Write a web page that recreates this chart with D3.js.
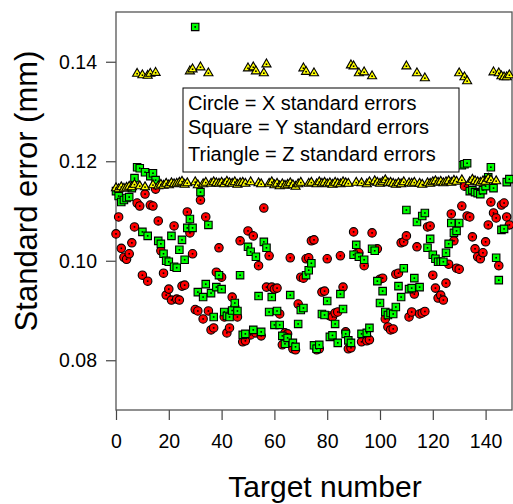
<!DOCTYPE html>
<html>
<head>
<meta charset="utf-8">
<script src="https://cdn.jsdelivr.net/npm/d3@7"></script>
<style>
  body { margin: 0; background: #fff; }
  svg { font-family: Arial, "Liberation Sans", sans-serif; }
</style>
</head>
<body>
<div id="chart"></div>
<script>
/*************** DATA ***************/
// target numbers 0..149, one standard error per axis for every target
var targets = d3.range(0, 150);

// Circle = X standard errors (mm)
var xErrors = [
  .1054,.1088,.1025,.1007,.1003,.1014,.1036,.1068,.1116,.1110,
  .0971,.1134,.0959,.1112,.1110,.1144,.1080,.1020,.0975,.0931,
  .0943,.0921,.1070,.0923,.0921,.0949,.0951,.1098,.1056,.1014,
  .0902,.0899,.1122,.0883,.1088,.0899,.0861,.0865,.0977,.1026,
  .0967,.0887,.0855,.0865,.0927,.0907,.0887,.1040,.0837,.0839,
  .1060,.0851,.1050,.0855,.0990,.0849,.1106,.0947,.1010,.0947,
  .0943,.0945,.0893,.0831,.0855,.0853,.1006,.0823,.0821,.0913,
  .0967,.0965,.1004,.1006,.1040,.1042,.0821,.0823,.0937,.0939,
  .1004,.0889,.0887,.0895,.0897,.1010,.0947,.0857,.0823,.0825,
  .1058,.1014,.1016,.0837,.0990,.0839,.0841,.1056,.1022,.1024,
  .0963,.0965,.0883,.0867,.0861,.0863,.0973,.0975,.1036,.1038,
  .1050,.0887,.0897,.0933,.1028,.0893,.0895,.0898,.1068,.1070,
  .0971,.0945,.0925,.0931,.0921,.0955,.0993,.1094,.1040,.0985,
  .0983,.1110,.1150,.1090,.1088,.1048,.1024,.1008,.1004,.1016,
  .1038,.1072,.1118,.1096,.1086,.0990,.1112,.1116,.1088,.1072
];

// Square = Y standard errors (mm)
var yErrors = [
  .1140,.1130,.1118,.1122,.1126,.1128,.1146,.1166,.1188,.1186,
  .1058,.1178,.1050,.1170,.1176,.1162,.1040,.1034,.1014,.1000,
  .0998,.1050,.0988,.0986,.1022,.1042,.1002,.1066,.1084,.1066,
  .1470,.0937,.1138,.0927,.0953,.1072,.0935,.0887,.0947,.0971,
  .0943,.0897,.0889,.0887,.0900,.0915,.0899,.0971,.0851,.0853,
  .1028,.1018,.0861,.1008,.0929,.0857,.1038,.1026,.0897,.0927,
  .0871,.0899,.0871,.0849,.0833,.0845,.0931,.0835,.0827,.0873,
  .0901,.0905,.0971,.0981,.0995,.0830,.0823,.0831,.0893,.0891,
  .0919,.0847,.0850,.0873,.0835,.0933,.0903,.0853,.0840,.0835,
  .1012,.1032,.1008,.0853,.1002,.0855,.0865,.1024,.1020,.0959,
  .0915,.0939,.0897,.0891,.0895,.0893,.0907,.0949,.0927,.0985,
  .1102,.0943,.0945,.0965,.1078,.0947,.1090,.1096,.1026,.1044,
  .1012,.1004,.0998,.0998,.0998,.1016,.1034,.1076,.1056,.1060,
  .1076,.1192,.1194,.1196,.1140,.1142,.1138,.1136,.1134,.1142,
  .1150,.1168,.1188,.1146,.1006,.0961,.1062,.1064,.1158,.1164
];

// Triangle = Z standard errors (mm)
var zErrors = [
  .1146,.1144,.1148,.1145,.1147,.1149,.1148,.1153,.1376,.1150,
  .1373,.1148,.1372,.1376,.1152,.1378,.1150,.1153,.1151,.1155,
  .1152,.1156,.1154,.1155,.1157,.1159,.1153,.1156,.1381,.1385,
  .1158,.1152,.1389,.1154,.1157,.1377,.1155,.1158,.1156,.1155,
  .1157,.1154,.1159,.1156,.1155,.1158,.1153,.1156,.1157,.1155,
  .1387,.1158,.1389,.1381,.1156,.1154,.1377,.1395,.1155,.1158,
  .1152,.1155,.1150,.1154,.1151,.1153,.1156,.1152,.1149,.1154,
  .1157,.1387,.1380,.1155,.1157,.1377,.1154,.1158,.1155,.1157,
  .1154,.1156,.1153,.1157,.1155,.1154,.1158,.1156,.1155,.1393,
  .1391,.1157,.1377,.1156,.1379,.1154,.1158,.1371,.1160,.1157,
  .1155,.1158,.1162,.1156,.1157,.1155,.1153,.1156,.1154,.1158,
  .1391,.1156,.1155,.1157,.1377,.1155,.1153,.1367,.1156,.1155,
  .1158,.1160,.1157,.1159,.1156,.1158,.1160,.1157,.1161,.1159,
  .1377,.1162,.1369,.1361,.1158,.1163,.1160,.1158,.1157,.1160,
  .1159,.1165,.1162,.1379,.1160,.1377,.1371,.1369,.1369,.1373
];

var xTicks = [0, 20, 40, 60, 80, 100, 120, 140];
var yTicks = [0.08, 0.10, 0.12, 0.14];
var legendLines = [
  'Circle = X standard errors',
  'Square = Y standard errors',
  'Triangle = Z standard errors'
];

/*************** CHART ***************/
const width = 513;
const height = 504;
const plot = { left: 116, right: 512, top: 12, bottom: 410 };

const x = d3.scaleLinear().domain([0, 150]).range([plot.left, plot.right]);
const y = d3.scaleLinear().domain([0.07, 0.15]).range([plot.bottom, plot.top]);

const svg = d3.select('#chart')
  .append('svg')
  .attr('width', width)
  .attr('height', height);

// axes with outward ticks
const xAxis = svg.append('g')
  .attr('transform', 'translate(0,' + plot.bottom + ')')
  .call(d3.axisBottom(x).tickValues(xTicks).tickSize(10).tickSizeOuter(0).tickPadding(14));

const yAxis = svg.append('g')
  .attr('transform', 'translate(' + plot.left + ',0)')
  .call(d3.axisLeft(y).tickValues(yTicks).tickFormat(d3.format('.2f')).tickSize(10).tickSizeOuter(0).tickPadding(9));

[xAxis, yAxis].forEach(function(g) {
  g.select('.domain').remove();
  g.selectAll('line').attr('stroke', '#444').attr('stroke-width', 1.2);
  g.selectAll('text')
    .attr('fill', '#000')
    .style('font-size', '19.5px')
    .style('font-family', 'Arial, "Liberation Sans", sans-serif');
});

// frame round the plot
svg.append('rect')
  .attr('x', plot.left)
  .attr('y', plot.top)
  .attr('width', plot.right - plot.left)
  .attr('height', plot.bottom - plot.top)
  .attr('fill', 'none')
  .attr('stroke', '#555')
  .attr('stroke-width', 1.3);

// build point lists
const circles = targets.map((t, i) => ({ t: t, v: xErrors[i] }));
const squares = targets.map((t, i) => ({ t: t, v: yErrors[i] }));
const triangles = targets.map((t, i) => ({ t: t, v: zErrors[i] }));

const pts = svg.append('g');

function drawSeries(data, type, size, fill) {
  const g = pts.append('g');
  const sym = d3.symbol().type(type).size(size);
  const el = g.selectAll('g')
    .data(data)
    .enter()
    .append('g')
    .attr('transform', d => 'translate(' + x(d.t) + ',' + y(d.v) + ')');
  el.append('path')
    .attr('d', sym)
    .attr('fill', fill)
    .attr('stroke', '#000')
    .attr('stroke-width', 1.1);
  // little dot in the middle of each marker
  el.append('rect')
    .attr('x', -0.8)
    .attr('y', -0.8)
    .attr('width', 1.6)
    .attr('height', 1.6)
    .attr('fill', '#000');
}

drawSeries(circles, d3.symbolCircle, 56, '#ff0000');
drawSeries(squares, d3.symbolSquare, 56, '#00ff00');
drawSeries(triangles, d3.symbolTriangle, 36, '#ffff00');

// legend box
const legend = svg.append('g');
legend.append('rect')
  .attr('x', 183)
  .attr('y', 88)
  .attr('width', 276)
  .attr('height', 84)
  .attr('fill', '#fff')
  .attr('stroke', '#000')
  .attr('stroke-width', 1);

const legendBase = [110, 134, 161];
legend.selectAll('text')
  .data(legendLines)
  .enter()
  .append('text')
  .attr('x', 188)
  .attr('y', (d, i) => legendBase[i])
  .style('font-size', '20px')
  .text(d => d);

// axis titles
svg.append('text')
  .attr('x', (plot.left + plot.right) / 2 + 11)
  .attr('y', 497)
  .attr('text-anchor', 'middle')
  .style('font-size', '30px')
  .text('Target number');

svg.append('text')
  .attr('transform', 'translate(37,191) rotate(-90)')
  .attr('text-anchor', 'middle')
  .style('font-size', '31px')
  .text('Standard error (mm)');
</script>
</body>
</html>
